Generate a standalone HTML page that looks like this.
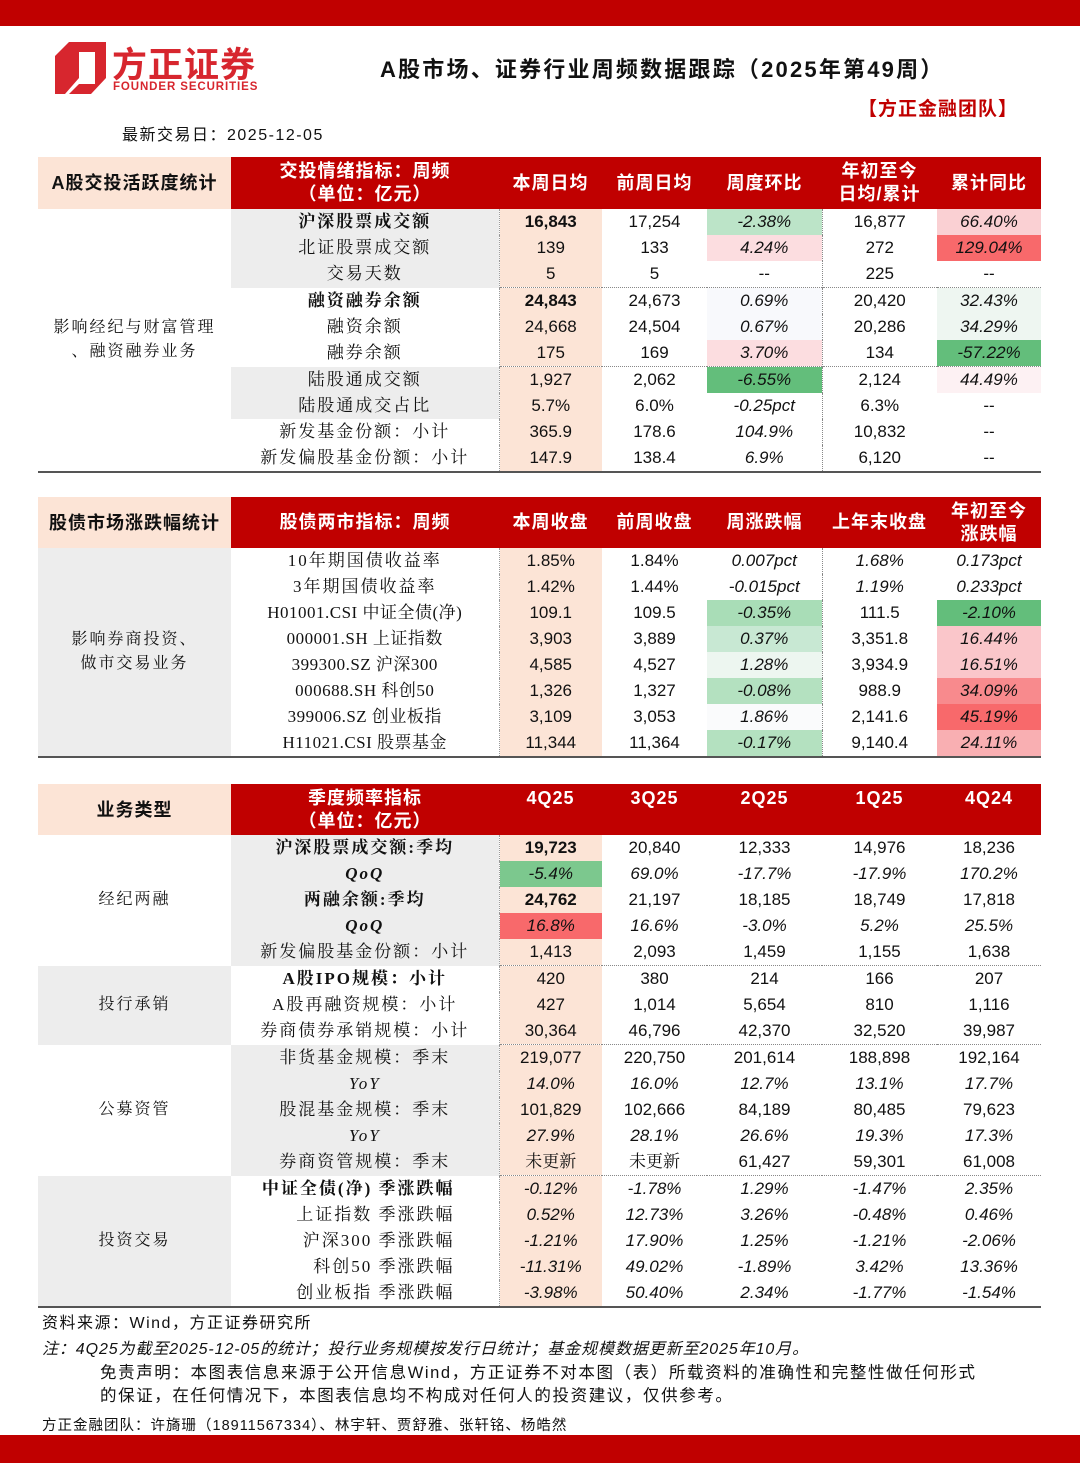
<!DOCTYPE html>
<html><head><meta charset="utf-8">
<style>
*{margin:0;padding:0;box-sizing:border-box}
body{width:1080px;height:1463px;background:#fff;position:relative;font-family:"Liberation Sans","Noto Sans CJK SC",sans-serif;color:#111;overflow:hidden}
.bar{position:absolute;left:0;width:1080px;background:#C00000}
.abs{position:absolute;white-space:nowrap}
table{position:absolute;left:38px;width:1003px;border-collapse:collapse;table-layout:fixed}
td{height:26px;text-align:center;font-size:17px;line-height:26px;padding:0;white-space:nowrap;overflow:hidden}
td.h{background:#C00000;color:#fff;font-size:18px;line-height:23px;height:auto;font-weight:bold;letter-spacing:1px}
td.lh{background:#FCE4D6;color:#111;font-weight:bold;font-size:18px;letter-spacing:1px}
td.m{font-family:"Liberation Serif","Noto Serif CJK SC",serif;font-size:17px;letter-spacing:2px}
.g{background:#EDEDED}
.p{background:#FCE4D6;border-left:1px dotted #999}
.lab{font-family:"Liberation Serif","Noto Serif CJK SC",serif;font-size:16px;line-height:24px;letter-spacing:2px}
i{font-style:italic}
td.i{font-style:italic}
.dv{border-left:1px dotted #888}
.dt td.d{border-top:1px dotted #888}
.bt td{border-bottom:2px solid #555}
b{font-weight:bold}
</style></head><body>
<div class="bar" style="top:0;height:26px"></div>
<div class="bar" style="top:1435px;height:28px"></div>

<svg class="abs" style="left:55px;top:42px" width="52" height="52" viewBox="0 0 52 52">
<path d="M14 0 H51 V10 H24 V36 L10 52 H0 V14 Z M40 10 H51 V36 L36 52 H14 L24 42 H40 Z" fill="#D7262E"/>
</svg>
<div class="abs" style="left:112px;top:37px;font-size:35px;font-weight:bold;color:#D7262E;letter-spacing:1px">方正证券</div>
<div class="abs" style="left:113px;top:81px;font-size:11.5px;font-weight:bold;color:#D7262E;letter-spacing:0.9px">FOUNDER SECURITIES</div>
<div class="abs" style="left:380px;top:52px;font-size:22px;font-weight:bold;letter-spacing:2.2px">A股市场、证券行业周频数据跟踪（2025年第49周）</div>
<div class="abs" style="left:858px;top:94px;font-size:19px;font-weight:bold;color:#C00000;letter-spacing:1px">【方正金融团队】</div>
<div class="abs" style="left:122px;top:121px;font-size:16px;letter-spacing:1.5px">最新交易日：2025-12-05</div>

<!-- Section 1 -->
<table style="top:157px">
<colgroup><col style="width:193px"><col style="width:268px"><col style="width:103px"><col style="width:105px"><col style="width:115px"><col style="width:115px"><col style="width:104px"></colgroup>
<tr style="height:52px"><td class="lh">A股交投活跃度统计</td><td class="h">交投情绪指标：周频<br>（单位：亿元）</td><td class="h">本周日均</td><td class="h">前周日均</td><td class="h">周度环比</td><td class="h">年初至今<br>日均/累计</td><td class="h">累计同比</td></tr>
<tr><td rowspan="10" class="lab" style="border-bottom:2px solid #555">影响经纪与财富管理<br>、融资融券业务</td><td class="m g"><b>沪深股票成交额</b></td><td class="p"><b>16,843</b></td><td>17,254</td><td class="i" style="background:#BCE4C8">-2.38%</td><td class="dv">16,877</td><td class="i" style="background:#FAD0D3">66.40%</td></tr>
<tr><td class="m g">北证股票成交额</td><td class="p">139</td><td>133</td><td class="i" style="background:#FCDDE0">4.24%</td><td class="dv">272</td><td class="i" style="background:#F8696B">129.04%</td></tr>
<tr><td class="m g">交易天数</td><td class="p">5</td><td>5</td><td>--</td><td class="dv">225</td><td>--</td></tr>
<tr class="dt"><td class="m"><b>融资融券余额</b></td><td class="p d"><b>24,843</b></td><td class="d">24,673</td><td class="d i" style="background:#F8F9FC">0.69%</td><td class="dv d">20,420</td><td class="d i" style="background:#EEF6F1">32.43%</td></tr>
<tr><td class="m">融资余额</td><td class="p">24,668</td><td>24,504</td><td class="i" style="background:#F8F9FC">0.67%</td><td class="dv">20,286</td><td class="i" style="background:#EEF6F1">34.29%</td></tr>
<tr><td class="m">融券余额</td><td class="p">175</td><td>169</td><td class="i" style="background:#FCDDE0">3.70%</td><td class="dv">134</td><td class="i" style="background:#63BE7B">-57.22%</td></tr>
<tr class="dt"><td class="m g">陆股通成交额</td><td class="p d">1,927</td><td class="d">2,062</td><td class="d i" style="background:#63BE7B">-6.55%</td><td class="dv d">2,124</td><td class="d i" style="background:#FDF1F3">44.49%</td></tr>
<tr><td class="m g">陆股通成交占比</td><td class="p">5.7%</td><td>6.0%</td><td class="i">-0.25pct</td><td class="dv">6.3%</td><td>--</td></tr>
<tr><td class="m">新发基金份额：小计</td><td class="p">365.9</td><td>178.6</td><td class="i">104.9%</td><td class="dv">10,832</td><td>--</td></tr>
<tr class="bt"><td class="m">新发偏股基金份额：小计</td><td class="p">147.9</td><td>138.4</td><td class="i">6.9%</td><td class="dv">6,120</td><td>--</td></tr>
</table>

<!-- Section 2 -->
<table style="top:497px">
<colgroup><col style="width:193px"><col style="width:268px"><col style="width:103px"><col style="width:105px"><col style="width:115px"><col style="width:115px"><col style="width:104px"></colgroup>
<tr style="height:51px"><td class="lh">股债市场涨跌幅统计</td><td class="h">股债两市指标：周频</td><td class="h">本周收盘</td><td class="h">前周收盘</td><td class="h">周涨跌幅</td><td class="h">上年末收盘</td><td class="h">年初至今<br>涨跌幅</td></tr>
<tr><td rowspan="8" class="lab g" style="border-bottom:2px solid #555">影响券商投资、<br>做市交易业务</td><td class="m">10年期国债收益率</td><td class="p">1.85%</td><td>1.84%</td><td class="i">0.007pct</td><td class="dv i">1.68%</td><td class="i">0.173pct</td></tr>
<tr><td class="m">3年期国债收益率</td><td class="p">1.42%</td><td>1.44%</td><td class="i">-0.015pct</td><td class="dv i">1.19%</td><td class="i">0.233pct</td></tr>
<tr><td class="m" style="letter-spacing:0.5px">H01001.CSI 中证全债(净)</td><td class="p">109.1</td><td>109.5</td><td class="i" style="background:#A9DDB7">-0.35%</td><td class="dv">111.5</td><td class="i" style="background:#63BE7B">-2.10%</td></tr>
<tr><td class="m" style="letter-spacing:0.5px">000001.SH 上证指数</td><td class="p">3,903</td><td>3,889</td><td class="i" style="background:#C8E8D3">0.37%</td><td class="dv">3,351.8</td><td class="i" style="background:#FAC6CA">16.44%</td></tr>
<tr><td class="m" style="letter-spacing:0.5px">399300.SZ 沪深300</td><td class="p">4,585</td><td>4,527</td><td class="i" style="background:#EDF6F0">1.28%</td><td class="dv">3,934.9</td><td class="i" style="background:#FAC6CA">16.51%</td></tr>
<tr><td class="m" style="letter-spacing:0.5px">000688.SH 科创50</td><td class="p">1,326</td><td>1,327</td><td class="i" style="background:#B4E1C0">-0.08%</td><td class="dv">988.9</td><td class="i" style="background:#F88A8D">34.09%</td></tr>
<tr><td class="m" style="letter-spacing:0.5px">399006.SZ 创业板指</td><td class="p">3,109</td><td>3,053</td><td class="i" style="background:#FAFBFC">1.86%</td><td class="dv">2,141.6</td><td class="i" style="background:#F8696B">45.19%</td></tr>
<tr class="bt"><td class="m" style="letter-spacing:0.5px">H11021.CSI 股票基金</td><td class="p">11,344</td><td>11,364</td><td class="i" style="background:#B4E1C0">-0.17%</td><td class="dv">9,140.4</td><td class="i" style="background:#F9AFB2">24.11%</td></tr>
</table>

<!-- Section 3 -->
<table style="top:784px">
<colgroup><col style="width:193px"><col style="width:268px"><col style="width:103px"><col style="width:105px"><col style="width:115px"><col style="width:115px"><col style="width:104px"></colgroup>
<tr style="height:51px"><td class="lh">业务类型</td><td class="h">季度频率指标<br>（单位：亿元）</td><td class="h" style="vertical-align:top;padding-top:3px">4Q25</td><td class="h" style="vertical-align:top;padding-top:3px">3Q25</td><td class="h" style="vertical-align:top;padding-top:3px">2Q25</td><td class="h" style="vertical-align:top;padding-top:3px">1Q25</td><td class="h" style="vertical-align:top;padding-top:3px">4Q24</td></tr>
<tr><td rowspan="5" class="lab">经纪两融</td><td class="m g"><b>沪深股票成交额:季均</b></td><td class="p"><b>19,723</b></td><td>20,840</td><td>12,333</td><td>14,976</td><td>18,236</td></tr>
<tr><td class="m g i"><b>QoQ</b></td><td class="p i" style="background:#7CC88E">-5.4%</td><td class="i">69.0%</td><td class="i">-17.7%</td><td class="i">-17.9%</td><td class="i">170.2%</td></tr>
<tr><td class="m g"><b>两融余额:季均</b></td><td class="p"><b>24,762</b></td><td>21,197</td><td>18,185</td><td>18,749</td><td>17,818</td></tr>
<tr><td class="m g i"><b>QoQ</b></td><td class="p i" style="background:#F8696B">16.8%</td><td class="i">16.6%</td><td class="i">-3.0%</td><td class="i">5.2%</td><td class="i">25.5%</td></tr>
<tr><td class="m g">新发偏股基金份额：小计</td><td class="p">1,413</td><td>2,093</td><td>1,459</td><td>1,155</td><td>1,638</td></tr>
<tr class="dt"><td rowspan="3" class="lab g">投行承销</td><td class="m"><b>A股IPO规模：小计</b></td><td class="p d">420</td><td class="d">380</td><td class="d">214</td><td class="d">166</td><td class="d">207</td></tr>
<tr><td class="m">A股再融资规模：小计</td><td class="p">427</td><td>1,014</td><td>5,654</td><td>810</td><td>1,116</td></tr>
<tr><td class="m">券商债券承销规模：小计</td><td class="p">30,364</td><td>46,796</td><td>42,370</td><td>32,520</td><td>39,987</td></tr>
<tr class="dt"><td rowspan="5" class="lab">公募资管</td><td class="m g">非货基金规模：季末</td><td class="p d">219,077</td><td class="d">220,750</td><td class="d">201,614</td><td class="d">188,898</td><td class="d">192,164</td></tr>
<tr><td class="m g i">YoY</td><td class="p i">14.0%</td><td class="i">16.0%</td><td class="i">12.7%</td><td class="i">13.1%</td><td class="i">17.7%</td></tr>
<tr><td class="m g">股混基金规模：季末</td><td class="p">101,829</td><td>102,666</td><td>84,189</td><td>80,485</td><td>79,623</td></tr>
<tr><td class="m g i">YoY</td><td class="p i">27.9%</td><td class="i">28.1%</td><td class="i">26.6%</td><td class="i">19.3%</td><td class="i">17.3%</td></tr>
<tr><td class="m g">券商资管规模：季末</td><td class="p" style="font-family:'Liberation Serif','Noto Serif CJK SC',serif">未更新</td><td style="font-family:'Liberation Serif','Noto Serif CJK SC',serif">未更新</td><td>61,427</td><td>59,301</td><td>61,008</td></tr>
<tr class="dt"><td rowspan="5" class="lab g" style="border-bottom:2px solid #555">投资交易</td><td class="m" style="text-align:right;padding-right:44px"><b>中证全债(净) 季涨跌幅</b></td><td class="p d i">-0.12%</td><td class="d i">-1.78%</td><td class="d i">1.29%</td><td class="d i">-1.47%</td><td class="d i">2.35%</td></tr>
<tr><td class="m" style="text-align:right;padding-right:44px">上证指数 季涨跌幅</td><td class="p i">0.52%</td><td class="i">12.73%</td><td class="i">3.26%</td><td class="i">-0.48%</td><td class="i">0.46%</td></tr>
<tr><td class="m" style="text-align:right;padding-right:44px">沪深300 季涨跌幅</td><td class="p i">-1.21%</td><td class="i">17.90%</td><td class="i">1.25%</td><td class="i">-1.21%</td><td class="i">-2.06%</td></tr>
<tr><td class="m" style="text-align:right;padding-right:44px">科创50 季涨跌幅</td><td class="p i">-11.31%</td><td class="i">49.02%</td><td class="i">-1.89%</td><td class="i">3.42%</td><td class="i">13.36%</td></tr>
<tr class="bt"><td class="m" style="text-align:right;padding-right:44px">创业板指 季涨跌幅</td><td class="p i">-3.98%</td><td class="i">50.40%</td><td class="i">2.34%</td><td class="i">-1.77%</td><td class="i">-1.54%</td></tr>
</table>

<div class="abs" style="left:42px;top:1309px;font-size:16px;letter-spacing:1.5px">资料来源：Wind，方正证券研究所</div>
<div class="abs" style="left:42px;top:1335px;font-size:16px;font-style:italic;letter-spacing:0.9px">注：4Q25为截至2025-12-05的统计；投行业务规模按发行日统计；基金规模数据更新至2025年10月。</div>
<div class="abs" style="left:100px;top:1362px;font-size:16.5px;line-height:23px;letter-spacing:1.6px">免责声明：本图表信息来源于公开信息Wind，方正证券不对本图（表）所载资料的准确性和完整性做任何形式<br>的保证，在任何情况下，本图表信息均不构成对任何人的投资建议，仅供参考。</div>
<div class="abs" style="left:42px;top:1414px;font-size:14.5px;letter-spacing:1px">方正金融团队：许旖珊（18911567334）、林宇轩、贾舒雅、张轩铭、杨皓然</div>
</body></html>
